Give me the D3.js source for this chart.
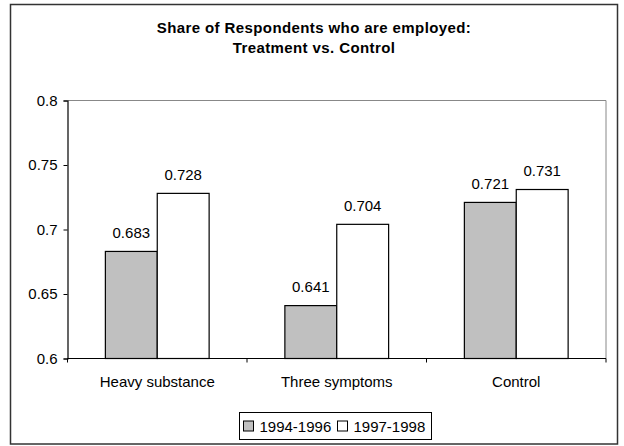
<!DOCTYPE html>
<html>
<head>
<meta charset="utf-8">
<script src="https://cdn.jsdelivr.net/npm/d3@7"></script>
<style>
  html, body { margin: 0; padding: 0; background: #fff; }
  svg { display: block; font-family: "Liberation Sans", Arial, sans-serif; }
</style>
</head>
<body>
<svg id="chart" width="624" height="446"></svg>
<script>
// Employment share by group and period
const categories = ["Heavy substance", "Three symptoms", "Control"];
const seriesNames = ["1994-1996", "1997-1998"];
const values1994 = [0.683, 0.641, 0.721];
const values1997 = [0.728, 0.704, 0.731];
const yTicks = [0.6, 0.65, 0.7, 0.75, 0.8];
const seriesFill = ["#c0c0c0", "#ffffff"];

const FONT = 15;
const svg = d3.select("#chart");

// outer frame
svg.append("rect")
  .attr("x", 10.5).attr("y", 4.5)
  .attr("width", 607).attr("height", 439.5)
  .attr("fill", "#fff").attr("stroke", "#333").attr("stroke-width", 1.5);

// title
const title = svg.append("text")
  .attr("text-anchor", "middle")
  .attr("font-size", FONT).attr("font-weight", "bold").attr("fill", "#000")
  .attr("letter-spacing", 0.4);
title.append("tspan").attr("x", 314).attr("y", 33).text("Share of Respondents who are employed:");
title.append("tspan").attr("x", 314).attr("y", 53).text("Treatment vs. Control");

const plot = { left: 67.5, right: 606, top: 100.5, bottom: 358.5 };

const x0 = d3.scaleBand().domain(categories)
  .range([plot.left, plot.right]).paddingInner(0).paddingOuter(0);
const x1 = d3.scaleBand().domain(seriesNames)
  .range([0, x0.bandwidth()]).paddingInner(0).paddingOuter(0.73);
const y = d3.scaleLinear().domain([0.6, 0.8]).range([plot.bottom, plot.top]);

// plot area border (top and right)
svg.append("path")
  .attr("d", `M${plot.left},${plot.top}H${plot.right}V${plot.bottom}`)
  .attr("fill", "none").attr("stroke", "#888").attr("stroke-width", 1);

// bars
const rows = categories.map((c, i) => ({ cat: c, vals: [values1994[i], values1997[i]] }));
const groups = svg.selectAll("g.grp").data(rows).join("g")
  .attr("class", "grp")
  .attr("transform", d => `translate(${x0(d.cat)},0)`);

groups.selectAll("rect").data(d => d.vals.map((v, j) => ({ v, s: seriesNames[j], j })))
  .join("rect")
  .attr("x", d => x1(d.s))
  .attr("y", d => y(d.v))
  .attr("width", x1.bandwidth())
  .attr("height", d => y(0.6) - y(d.v))
  .attr("fill", d => seriesFill[d.j])
  .attr("stroke", "#000").attr("stroke-width", 1.2);

groups.selectAll("text").data(d => d.vals.map((v, j) => ({ v, s: seriesNames[j] })))
  .join("text")
  .attr("x", d => x1(d.s) + x1.bandwidth() / 2)
  .attr("y", d => y(d.v) - 13.5)
  .attr("text-anchor", "middle")
  .attr("font-size", FONT).attr("fill", "#000")
  .text(d => d3.format(".3f")(d.v));

// y axis
const yAxis = svg.append("g")
  .attr("transform", `translate(${plot.left},0)`)
  .call(d3.axisLeft(y).tickValues(yTicks).tickSize(4).tickPadding(6)
    .tickFormat(d => String(+d.toFixed(2))));
yAxis.select(".domain").attr("stroke", "#000").attr("stroke-width", 1.2);
yAxis.selectAll(".tick line").attr("stroke", "#000");
yAxis.selectAll("text").attr("font-size", FONT).attr("fill", "#000")
  .attr("font-family", "Liberation Sans, Arial, sans-serif");

// x axis: ticks at category boundaries
const xAxis = svg.append("g").attr("transform", `translate(0,${plot.bottom})`);
xAxis.append("line")
  .attr("x1", plot.left).attr("x2", plot.right)
  .attr("stroke", "#000").attr("stroke-width", 1.2);
const bounds = categories.map(c => x0(c)).concat([x0(categories[categories.length - 1]) + x0.bandwidth()]);
xAxis.selectAll("line.tk").data(bounds).join("line")
  .attr("class", "tk")
  .attr("x1", d => d).attr("x2", d => d)
  .attr("y1", 0).attr("y2", 4)
  .attr("stroke", "#000");
xAxis.selectAll("text").data(categories).join("text")
  .attr("x", d => x0(d) + x0.bandwidth() / 2)
  .attr("y", 28)
  .attr("text-anchor", "middle")
  .attr("font-size", FONT).attr("fill", "#000")
  .text(d => d);

// legend
const legend = svg.append("g").attr("transform", "translate(239.5,412.5)");
legend.append("rect").attr("width", 192).attr("height", 27)
  .attr("fill", "#fff").attr("stroke", "#000").attr("stroke-width", 1);
const items = legend.selectAll("g.item").data(seriesNames).join("g")
  .attr("class", "item")
  .attr("transform", (d, i) => `translate(${4 + i * 94},0)`);
items.append("rect")
  .attr("x", 0).attr("y", 8.5).attr("width", 10).attr("height", 10)
  .attr("fill", (d, i) => seriesFill[i]).attr("stroke", "#000");
items.append("text")
  .attr("x", 16).attr("y", 19)
  .attr("font-size", FONT).attr("fill", "#000")
  .text(d => d);
</script>
</body>
</html>
